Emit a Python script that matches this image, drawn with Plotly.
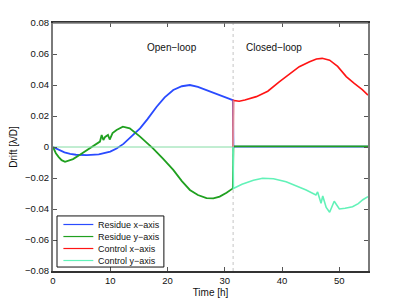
import plotly.graph_objects as go

# ---- data ----
t_switch = 31.45

res_x_t = [0, 1, 2, 3, 4, 5.9, 8, 10, 11.1, 12.3, 13.7, 15.2, 16.5, 18.1, 19.5, 21, 22.5, 23.9,
           25.3, 26.8, 28.2, 29.7, 31.4, 31.5, 35, 40, 45, 50, 55]
res_x_v = [0, -0.002, -0.0035, -0.0045, -0.005, -0.0052, -0.0048, -0.003, -0.001, 0.002, 0.0067,
           0.012, 0.018, 0.026, 0.032, 0.0368, 0.0392, 0.040, 0.0388, 0.0368, 0.0345, 0.0325,
           0.0303, 0.0002, 0.0002, 0.0001, 0.0002, 0.0001, 0.0002]

res_y_t = [0, 0.5, 1, 1.5, 2.1, 2.8, 3.5, 4.7, 5.5, 6.4, 7.3, 8.2, 8.5, 8.8, 9.1, 9.6, 9.9, 10.4,
           11.1, 12.2, 13.4, 14.6, 15.2, 16.3, 17.5, 19.2, 21, 22.5, 23.9, 25.3, 26.8, 28, 29.1,
           30.3, 31.4, 31.5, 35, 40, 45, 50, 55]
res_y_v = [0, -0.004, -0.0065, -0.0085, -0.0095, -0.0085, -0.0078, -0.005, -0.003, -0.001, 0.0015,
           0.0035, 0.0077, 0.0045, 0.0065, 0.0078, 0.0048, 0.009, 0.011, 0.0131, 0.012, 0.0088,
           0.0067, 0.003, -0.001, -0.0075, -0.0148, -0.022, -0.0277, -0.031, -0.033, -0.0332,
           -0.032, -0.0295, -0.0267, 0.0004, 0.0004, 0.0004, 0.0004, 0.0004, 0.0004]

ctl_x_t = [0, 31.45, 31.5, 32.5, 33.5, 35.5, 37.5, 39.5, 41.3, 43, 44.8, 46, 47, 48.3, 49.7, 51.2,
           52.6, 54, 55]
ctl_x_v = [0, 0, 0.030, 0.0295, 0.0303, 0.0325, 0.036, 0.042, 0.047, 0.0518, 0.055, 0.0568,
           0.0572, 0.056, 0.052, 0.0454, 0.041, 0.037, 0.0335]

ctl_y_t = [0, 31.45, 31.5, 33, 35, 36.6, 38.5, 40.7, 42.5, 44.2, 45.9, 46.2, 46.8, 47.1, 47.7,
           48.3, 49.1, 50, 51, 52.3, 53.3, 54.1, 55]
ctl_y_v = [0, 0, -0.0267, -0.024, -0.0215, -0.0202, -0.0205, -0.0224, -0.025, -0.0277, -0.031,
           -0.029, -0.0363, -0.0316, -0.039, -0.0421, -0.035, -0.040, -0.0395, -0.0385, -0.0365,
           -0.034, -0.032]

x_ticks = [0, 10, 20, 30, 40, 50]
y_ticks = [-0.08, -0.06, -0.04, -0.02, 0, 0.02, 0.04, 0.06, 0.08]

series_names = ["Residue x\u2212axis", "Residue y\u2212axis", "Control x\u2212axis", "Control y\u2212axis"]

C_BLUE = "#2a4bff"
C_GREEN = "#20a020"
C_RED = "#ff1414"
C_AQUA = "#62f2b8"
colors = [C_BLUE, C_GREEN, C_RED, C_AQUA]

fig = go.Figure()
n_open = ctl_y_t.index(t_switch) + 1

fig.add_trace(go.Scatter(x=res_x_t, y=res_x_v, mode="lines", name=series_names[0],
                         line=dict(color=C_BLUE, width=1.8)))
fig.add_trace(go.Scatter(x=res_y_t, y=res_y_v, mode="lines", name=series_names[1],
                         line=dict(color=C_GREEN, width=1.8)))
fig.add_trace(go.Scatter(x=ctl_x_t[n_open - 1:], y=ctl_x_v[n_open - 1:], mode="lines",
                         name=series_names[2], line=dict(color=C_RED, width=1.6)))
fig.add_trace(go.Scatter(x=ctl_y_t[:n_open], y=ctl_y_v[:n_open], mode="lines",
                         line=dict(color="#84dca4", width=1)))
fig.add_trace(go.Scatter(x=ctl_y_t[n_open - 1:], y=ctl_y_v[n_open - 1:], mode="lines",
                         name=series_names[3], line=dict(color=C_AQUA, width=1.6)))
# pinkish transition segment (red over blue)
fig.add_trace(go.Scatter(x=[ctl_x_t[n_open - 1], ctl_x_t[n_open]],
                         y=[ctl_x_v[n_open - 1], ctl_x_v[n_open]], mode="lines",
                         line=dict(color="#d88a9e", width=1.8)))

fig.add_vline(x=t_switch, line=dict(color="#c4c4c4", width=1, dash="dot"), layer="below")

fig.add_annotation(x=0.292, y=0.93, xref="paper", yref="paper", text="Open\u2212loop",
                   showarrow=False, font=dict(size=10, color="#111"))
fig.add_annotation(x=0.797, y=0.93, xref="paper", yref="paper", text="Closed\u2212loop",
                   showarrow=False, font=dict(size=10, color="#111"))

# top frame line (gray)
fig.add_shape(type="line", xref="paper", yref="paper", x0=0, x1=1, y0=1, y1=1,
              line=dict(color="#7a7a7a", width=1.5))

# custom compact legend
fig.add_shape(type="rect", xref="paper", yref="paper", x0=0.0127, x1=0.352, y0=0.016, y1=0.222,
              line=dict(color="#111", width=1), fillcolor="white", layer="above")
leg_y = [0.1875, 0.139, 0.0907, 0.0423]
for name, col, yy in zip(series_names, colors, leg_y):
    fig.add_shape(type="line", xref="paper", yref="paper", x0=0.033, x1=0.128, y0=yy, y1=yy,
                  line=dict(color=col, width=1.2), layer="above")
    fig.add_annotation(x=0.137, y=yy, xref="paper", yref="paper", text=name, showarrow=False,
                       xanchor="left", yanchor="middle", font=dict(size=9, color="#111"))

# the page body has an 8px default margin; compensate so the figure fills the window
fig.update_layout(
    width=399, height=298,
    margin=dict(l=45, r=39, t=15, b=35, autoexpand=False),
    paper_bgcolor="white", plot_bgcolor="white",
    font=dict(family="Liberation Sans, Arial, sans-serif", size=9.5, color="#111"),
    showlegend=False,
)
fig.update_xaxes(range=[0, 55], tickvals=x_ticks, ticks="inside", ticklen=4,
                 tickcolor="#555", showgrid=False, zeroline=False, showline=True,
                 linecolor="#333", linewidth=1.5, mirror="ticks", automargin=False,
                 title=dict(text="Time [h]", standoff=4, font=dict(size=10)))
fig.update_yaxes(range=[-0.08, 0.08], tickvals=y_ticks, ticks="inside", ticklen=4,
                 tickcolor="#555", showgrid=False, zeroline=False, showline=True,
                 linecolor="#7a7a7a", linewidth=2, mirror="ticks", automargin=False,
                 title=dict(text="Drift [\u03bb/D]", standoff=6, font=dict(size=10)))

fig.write_html("out.html")
